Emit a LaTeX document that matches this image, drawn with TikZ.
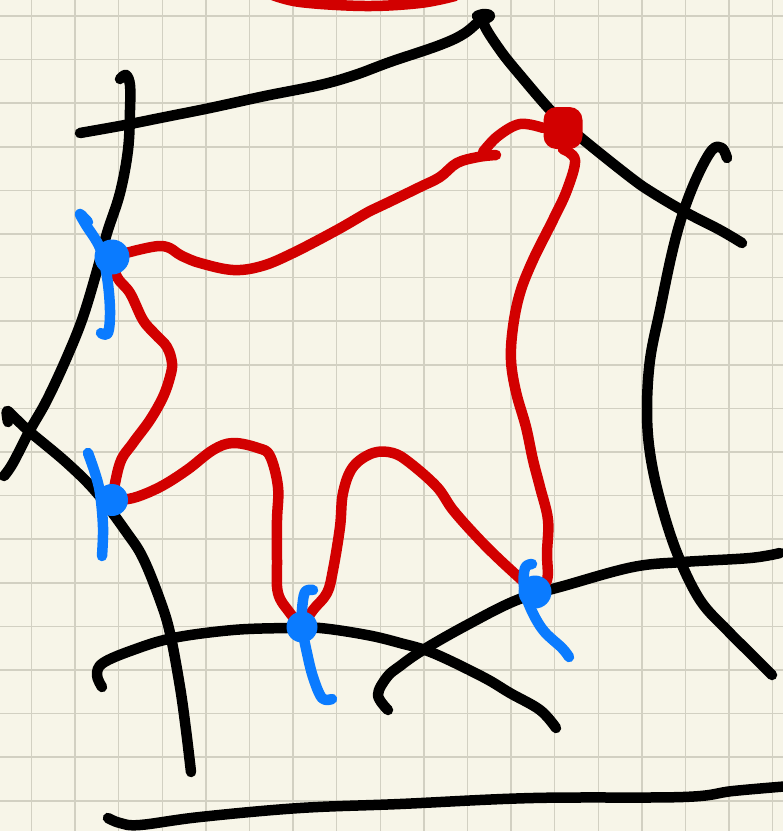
\documentclass[tikz,border=0pt]{standalone}
\usepackage{tikz}
\usetikzlibrary{calc}
\definecolor{paper}{HTML}{F7F5E8}
\definecolor{gridc}{HTML}{D2D0C2}
\definecolor{inkred}{HTML}{D20000}
\definecolor{inkblue}{HTML}{0A7BFF}

\begin{document}
\begin{tikzpicture}[
		x=1pt, y=-1pt,
		gridline/.style={gridc, line width=1.5pt},
		pen/.style={line width=10.5pt, line cap=round, line join=round},
		blackpen/.style={pen, black},
		redpen/.style={pen, inkred},
		bluepen/.style={pen, inkblue},
		vtx/.style={circle, fill=inkblue, inner sep=0pt, minimum size=34pt},
		redvtx/.style={rectangle, rounded corners=13pt, fill=inkred,
				inner sep=0pt, minimum width=39pt, minimum height=42pt},
		]

		\useasboundingbox (0,0) rectangle (783,831);
		\clip (0,0) rectangle (783,831);
		\fill[paper] (0,0) rectangle (783,831);

		% squared paper
		\foreach \i in {0,...,17}
		\draw[gridline] ({31.5+43.6*\i},0) -- ({31.5+43.6*\i},831);
		\foreach \j in {0,...,18}
		\draw[gridline] (0,{16+43.6*\j}) -- (783,{16+43.6*\j});

		% black strokes
		\draw[blackpen] plot[smooth, tension=0.6] coordinates {(80,133) (125,125) (165,117) (210,108) (265,96) (320,85) (355,75) (390,62) (440,45) (465,33) (482,18)};
		\draw[blackpen] plot[smooth, tension=0.6] coordinates {(477,16) (484,14) (490,16) (484,24) (500,50) (520,75) (553,113) (580,137) (630,177) (653,193) (687,213) (720,230) (742,243)};
		\draw[blackpen] plot[smooth, tension=0.6] coordinates {(120,79) (126,75) (130,85) (130,110) (128,150) (120,193) (107,233) (98,267) (83,317) (67,357) (47,400) (30,430) (13,463) (4,476)};
		\draw[blackpen] plot[smooth, tension=0.6] coordinates {(8,422) (7,411) (15,418) (30,432) (67,463) (97,493) (127,533) (143,558) (160,600) (170,633) (180,687) (186,730) (191,772)};
		\draw[blackpen] plot[smooth, tension=0.6] coordinates {(102,687) (97,675) (103,663) (133,650) (173,638) (233,630) (287,628) (320,628) (367,635) (400,643) (433,653) (483,677) (510,693) (540,710) (556,728)};
		\draw[blackpen] plot[smooth, tension=0.6] coordinates {(388,710) (378,695) (387,677) (400,666) (423,650) (467,625) (517,600) (567,585) (633,567) (683,562) (750,558) (780,553)};
		\draw[blackpen] plot[smooth, tension=0.6] coordinates {(727,158) (722,148) (712,150) (697,177) (683,213) (672,253) (660,310) (650,360) (647,410) (650,453) (660,500) (677,553) (700,600) (727,630) (750,653) (772,675)};
		\draw[blackpen] plot[smooth, tension=0.6] coordinates {(108,818) (120,823) (140,825) (200,817) (300,808) (400,804) (533,798) (683,797) (733,791) (790,786)};

		% vertices
		\node[redvtx] (rn) at (563,128) {};
		\coordinate (b1) at (112,257);
		\coordinate (b2) at (112,500);
		\coordinate (b3) at (302,627);
		\coordinate (b4) at (535,592);

		% red strokes
		\draw[redpen] plot[smooth, tension=0.6] coordinates {(270,-6) (300,2) (365,6) (420,3) (455,-4)};
		\draw[redpen] plot[smooth, tension=0.6] coordinates {(rn.west) (520,124) (498,136) (483,152)};
		\draw[redpen] plot[smooth, tension=0.6] coordinates {(496,155) (478,157) (457,163) (440,177) (420,187) (387,203) (370,211) (337,230) (293,253) (262,266) (233,270) (200,263) (182,256) (160,246) (b1)};
		\draw[redpen] plot[smooth, tension=0.6] coordinates {(b1) (117,277) (130,293) (143,320) (155,334) (167,347) (172,363) (170,377) (163,397) (150,420) (133,443) (120,463) (b2)};
		\draw[redpen] plot[smooth, tension=0.6] coordinates {(b2) (133,498) (160,487) (187,470) (213,450) (233,443) (258,448) (270,456) (278,487) (277,520) (277,560) (278,593) (290,613) (b3)};
		\draw[redpen] plot[smooth, tension=0.6] coordinates {(b3) (313,610) (327,593) (333,570) (340,527) (343,493) (353,467) (373,453) (393,453) (410,463) (437,487) (453,510) (477,537) (500,560) (b4)};
		\draw[redpen] plot[smooth, tension=0.6] coordinates {(b4) (547,580) (547,553) (548,520) (540,487) (533,460) (526,427) (516,392) (511,360) (513,327) (520,293) (533,260) (553,220) (567,190) (575,160) (rn.south)};

		% blue strokes
		\node[vtx, minimum size=35pt] (v1) at (b1) {};
		\node[vtx, minimum size=32pt] (v2) at (b2) {};
		\node[vtx, minimum size=31pt] (v3) at (b3) {};
		\node[vtx, minimum size=33pt] (v4) at (b4) {};
		\draw[bluepen] plot[smooth, tension=0.6] coordinates {(88,222) (80,214) (86,225) (100,248) (107,277) (110,310) (108,333) (101,333)};
		\draw[bluepen] plot[smooth, tension=0.6] coordinates {(88,453) (95,473) (100,493) (103,527) (102,556)};
		\draw[bluepen] plot[smooth, tension=0.6] coordinates {(313,590) (305,592) (302,610) (v3) (307,653) (313,677) (322,698) (332,699)};
		\draw[bluepen] plot[smooth, tension=0.6] coordinates {(532,564) (525,568) (524,587) (530,607) (543,630) (562,648) (569,657)};

	\end{tikzpicture}
\end{document}
